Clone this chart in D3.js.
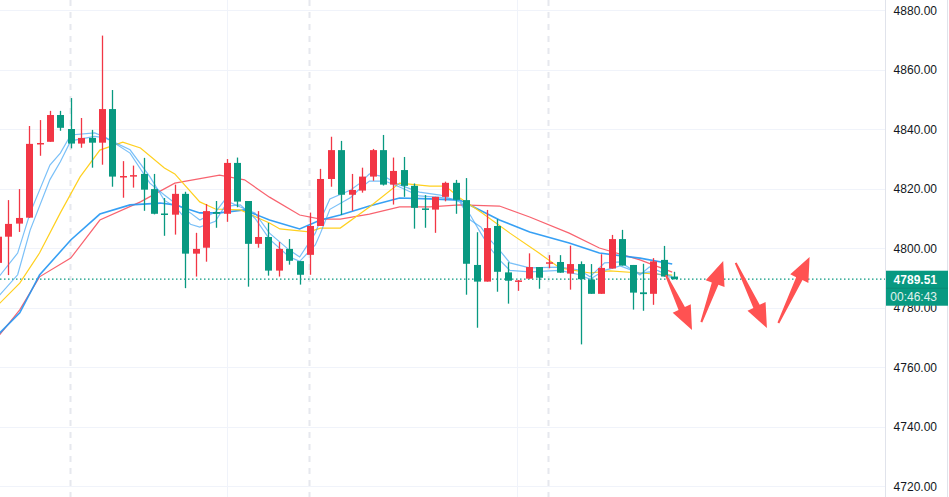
<!DOCTYPE html>
<html><head><meta charset="utf-8">
<script src="https://cdn.jsdelivr.net/npm/d3@7"></script>
<style>body{margin:0;background:#fff;overflow:hidden}svg{display:block}</style>
</head><body><svg id="c" width="949" height="497"></svg>
<script>
// candles: [open, high, low, close]
const candles = [
[4795.0,4805.0,4788.0,4803.8],
[4803.8,4816.1,4790.9,4808.1],[4808.2,4819.8,4805.4,4810.1],[4810.2,4841.0,4810.1,4835.0],[4835.0,4843.0,4831.0,4835.3],
[4835.7,4846.1,4835.7,4844.7],[4844.7,4846.1,4839.4,4840.4],[4840.0,4850.4,4833.5,4835.1],[4835.1,4843.7,4833.7,4837.0],
[4837.0,4839.7,4827.0,4835.4],[4835.4,4871.4,4828.0,4846.7],[4846.7,4853.1,4820.6,4824.0],[4824.0,4829.2,4816.9,4824.2],
[4824.0,4827.7,4820.3,4824.5],[4824.9,4830.3,4812.5,4819.6],[4819.8,4824.9,4811.3,4811.5],[4811.6,4816.8,4804.1,4811.4],
[4811.2,4821.3,4804.5,4818.2],[4818.2,4818.9,4786.5,4798.1],[4798.1,4805.1,4790.4,4799.7],[4800.1,4814.8,4795.4,4812.4],
[4812.1,4815.8,4806.8,4811.5],[4811.5,4829.9,4808.8,4828.6],[4828.6,4830.4,4813.7,4815.6],[4815.8,4815.8,4787.0,4801.4],
[4801.4,4812.4,4800.1,4803.7],[4803.7,4808.4,4790.7,4792.4],[4792.4,4802.0,4790.4,4799.7],[4799.7,4803.0,4794.4,4795.7],
[4795.6,4795.6,4787.7,4791.0],[4797.7,4811.9,4791.0,4807.4],[4807.4,4826.6,4807.4,4823.2],[4823.2,4837.4,4820.6,4832.9],
[4832.9,4836.0,4811.1,4817.9],[4817.9,4824.9,4812.5,4819.5],[4819.3,4827.0,4818.6,4824.0],[4824.0,4833.3,4822.6,4832.9],
[4832.9,4838.0,4821.0,4821.3],[4821.3,4830.4,4814.6,4825.9],[4826.2,4830.6,4817.2,4820.9],[4820.9,4821.7,4806.5,4813.5],
[4813.3,4817.8,4806.8,4813.0],[4812.9,4817.2,4805.1,4817.2],[4817.2,4822.3,4815.7,4821.9],[4821.9,4822.9,4811.5,4816.2],
[4816.1,4823.5,4784.3,4794.7],[4794.3,4805.3,4773.2,4788.7],[4788.7,4812.8,4788.7,4806.7],[4807.4,4809.7,4785.3,4792.0],
[4791.8,4795.2,4781.3,4789.0],[4789.0,4789.2,4785.6,4789.1],[4789.7,4798.2,4789.7,4793.6],[4793.6,4793.6,4786.3,4790.0],
[4795.0,4797.6,4793.2,4795.2],[4795.3,4797.6,4791.7,4791.7],[4791.4,4800.8,4786.0,4794.6],[4794.6,4795.5,4767.6,4789.5],
[4789.4,4794.6,4784.6,4784.6],[4784.6,4797.9,4784.6,4793.3],[4793.1,4804.4,4793.1,4803.0],[4803.0,4806.1,4794.1,4794.1],
[4794.3,4794.3,4779.3,4785.0],[4785.1,4794.7,4778.9,4784.5],[4784.6,4796.6,4780.9,4795.5],[4796.0,4800.7,4790.4,4790.4],
[4790.4,4792.0,4789.5,4789.51]
];
// moving averages: [candle index, price]
const maFast1 = [[0,4789.9],[1.9,4798.3],[3.1,4811.8],[5,4827.9],[6,4831.9],[7,4838.0],[9.3,4838.7],[10.3,4837.3],[12.7,4831.9],[14.6,4821.8],[16,4817.8],[17,4815.1],[18.5,4811.8],[19.4,4809.4],[20.9,4812.1],[21.8,4816.1],[23.3,4813.8],[24.7,4811.8],[26.1,4805.0],[28,4799.3],[29,4797.0],[30.5,4805.0],[31,4809.4],[31.9,4816.5],[33.9,4819.5],[34.8,4821.8],[35.7,4824.9],[37.2,4823.9],[38.6,4821.2],[40.5,4818.8],[42.5,4817.8],[44.4,4815.5],[45.4,4809.4],[46.4,4807.1],[47.3,4802.7],[48.2,4799.3],[49.2,4795.0],[51.1,4793.3],[54,4793.6],[55.9,4792.6],[56.9,4790.3],[58.3,4795.0],[59.8,4795.3],[61.7,4790.9],[62.6,4793.6],[64.8,4790.3]];
const maFast2 = [[0,4783.5],[1.9,4791],[3.1,4806],[5,4823],[6,4829],[7,4836],[9.3,4837.5],[10.3,4837],[12.7,4833],[14.6,4824],[16,4816],[17,4814],[18.5,4808],[19.4,4807],[20.9,4809],[21.8,4814],[23.3,4814.5],[24.7,4810],[26.1,4803],[28,4797],[29,4795.5],[30.5,4801],[31,4805],[31.9,4813],[33.9,4817],[34.8,4820],[35.7,4822.5],[37.2,4822.5],[38.6,4820.5],[40.5,4817.5],[42.5,4817],[44.4,4816],[45.4,4811],[46.4,4805],[47.3,4800],[48.2,4796],[49.2,4792.5],[51.1,4792],[54,4792.5],[55.9,4791],[56.9,4789.5],[58.3,4792.5],[59.8,4794],[61.7,4791.5],[62.6,4792],[64.8,4790]];
const maYellow = [[0,4780.8],[2.1,4788.2],[4,4798.3],[6,4811.8],[7.9,4823.9],[9.8,4832.9],[12,4835.6],[13.7,4833.6],[16,4826.9],[17,4824.9],[19.4,4815.5],[20.9,4813.1],[23.3,4812.8],[26.1,4808.4],[27.1,4806.4],[29.9,4805.4],[31,4806.7],[32.9,4806.7],[35.7,4813.8],[38.6,4821.8],[41.5,4820.8],[43,4820.8],[44.4,4816.8],[46.4,4812.1],[49.2,4805.0],[52,4798.3],[54,4793.3],[56.9,4791.6],[58.8,4792.3],[61.7,4791.6],[64.8,4790.9]];
const maBlue = [[0,4770.8],[2.1,4778.2],[4,4790.9],[7,4802.7],[9.8,4811.4],[12.7,4814.5],[15.6,4815.1],[17,4814.5],[19.4,4811.8],[21.3,4811.8],[23.7,4812.8],[26.1,4809.4],[29,4806.4],[31,4809.4],[32.9,4811.1],[35.7,4814.1],[38.6,4816.8],[41.5,4816.5],[44.4,4816.1],[48.2,4809.4],[51.1,4805.4],[54.9,4801.7],[57.8,4798.3],[61.7,4796.6],[64.8,4794.6]];
const maRed = [[0,4770.1],[2.1,4779.2],[4,4790.3],[7,4796.6],[9.8,4809.4],[13.7,4815.5],[17,4821.8],[21.3,4824.5],[23.7,4822.9],[26.1,4817.1],[29,4811.1],[31,4809.7],[32.9,4809.7],[35.7,4811.4],[38.6,4813.8],[41.5,4813.8],[44.4,4814.5],[48.2,4814.1],[51.1,4810.4],[54.9,4805.0],[57.8,4800.0],[61.7,4796.0],[64.8,4791.9]];
const priceTicks = [4720,4740,4760,4780,4800,4820,4840,4860,4880];
const lastPrice = 4789.51, countdown = "00:46:43";
const vSolid = [22, 49.9], vDashed = [6.93, 29.9, 52.9];
// annotation arrows: [fromIndex, fromPrice, toIndex, toPrice]
const arrows = [[64.2,4790.9,66.7,4772.4],[67.6,4775.1,69.7,4795.6],[70.9,4795.0,73.9,4773.1],[75.0,4774.8,78.0,4797.0]];

const W=949,H=497,axisX=885;
const svg=d3.select("#c");
const x=d3.scaleLinear().domain([1,65]).range([8.3,674.3]);
const y=d3.scaleLinear().domain([4720,4880]).range([486,10]);
const up="#F23645",dn="#089981";
const plot=svg.append("g");
svg.append("defs").append("clipPath").attr("id","cp").append("rect").attr("width",axisX).attr("height",H);
plot.attr("clip-path","url(#cp)");
// grid
plot.selectAll(".hg").data(priceTicks).join("line").attr("x1",0).attr("x2",axisX)
 .attr("y1",d=>Math.round(y(d))+0.5).attr("y2",d=>Math.round(y(d))+0.5).attr("stroke","#f0f3fa");
plot.selectAll(".vs").data(vSolid).join("line").attr("x1",d=>Math.round(x(d))+.5).attr("x2",d=>Math.round(x(d))+.5)
 .attr("y1",0).attr("y2",H).attr("stroke","#f0f3fa");
plot.selectAll(".vd").data(vDashed).join("line").attr("x1",d=>Math.round(x(d))+.5).attr("x2",d=>Math.round(x(d))+.5)
 .attr("y1",0).attr("y2",H).attr("stroke","#e6e8ee").attr("stroke-width",2).attr("stroke-dasharray","6,6");
// last price line
plot.append("line").attr("x1",0).attr("x2",axisX).attr("y1",y(lastPrice)).attr("y2",y(lastPrice))
 .attr("stroke",dn).attr("stroke-width",1.2).attr("stroke-dasharray","1.5,2.5");
// MAs
const line=d3.line().x(d=>x(d[0])).y(d=>y(d[1])).curve(d3.curveLinear);
[[maRed,"#F7525F",1.2,0.9],[maBlue,"#2196F3",1.6,0.9],[maYellow,"#FFD01F",1.2,1],[maFast2,"#42A5F5",1.2,0.7],[maFast1,"#42A5F5",1.2,0.7]]
.forEach(([d,c,w,o])=>plot.append("path").attr("d",line(d)).attr("fill","none").attr("stroke",c).attr("stroke-width",w).attr("opacity",o));
// candles
const g=plot.selectAll(".cd").data(candles).join("g");
g.append("line").attr("x1",(d,i)=>Math.round(x(i))+.5).attr("x2",(d,i)=>Math.round(x(i))+.5)
 .attr("y1",d=>y(d[1])).attr("y2",d=>y(d[2])).attr("stroke",d=>d[3]>=d[0]?up:dn).attr("stroke-width",1.3);
g.append("rect").attr("x",(d,i)=>Math.round(x(i))-3).attr("width",7)
 .attr("y",d=>y(Math.max(d[0],d[3]))).attr("height",d=>Math.max(1.5,Math.abs(y(d[0])-y(d[3]))))
 .attr("fill",d=>d[3]>=d[0]?up:dn);
// arrows
arrows.forEach(a=>{
 const x0=x(a[0]),y0=y(a[1]),x1=x(a[2]),y1=y(a[3]);
 const dx=x1-x0,dy=y1-y0,L=Math.hypot(dx,dy),ux=dx/L,uy=dy/L,px=-uy,py=ux;
 const hl=24,hw=10,sw0=1,sw1=3.5;
 const bx=x1-ux*hl,by=y1-uy*hl;
 const pts=[[x0+px*sw0,y0+py*sw0],[bx+px*sw1,by+py*sw1],[bx+px*hw,by+py*hw],[x1,y1],[bx-px*hw,by-py*hw],[bx-px*sw1,by-py*sw1],[x0-px*sw0,y0-py*sw0]];
 svg.append("path").attr("d","M"+pts.map(p=>p.join(",")).join("L")+"Z").attr("fill","#FF5252");
});
// axis
svg.append("line").attr("x1",axisX+.5).attr("x2",axisX+.5).attr("y1",0).attr("y2",H).attr("stroke","#e0e3eb");
svg.append("line").attr("x1",W-1.5).attr("x2",W-1.5).attr("y1",0).attr("y2",H).attr("stroke","#e0e3eb");
svg.selectAll(".tl").data(priceTicks).join("text").attr("x",937).attr("y",d=>y(d)+4.5)
 .attr("text-anchor","end").attr("font-family","Liberation Sans, Arial, sans-serif").attr("font-size",12).attr("fill","#131722")
 .text(d=>d.toFixed(2));
const ly=y(lastPrice);
svg.append("rect").attr("x",axisX+1).attr("y",ly-8.5).attr("width",W-axisX-2).attr("height",35).attr("fill",dn);
svg.append("line").attr("x1",axisX+1).attr("x2",W-1).attr("y1",ly+9).attr("y2",ly+9).attr("stroke","#0b8a73");
svg.append("text").attr("x",937).attr("y",ly+4.5).attr("text-anchor","end").attr("font-family","Liberation Sans, Arial, sans-serif")
 .attr("font-size",12).attr("font-weight","bold").attr("fill","#fff").text(lastPrice.toFixed(2));
svg.append("text").attr("x",937).attr("y",ly+22).attr("text-anchor","end").attr("font-family","Liberation Sans, Arial, sans-serif")
 .attr("font-size",12).attr("fill","#e0f2ee").text(countdown);
</script></body></html>
